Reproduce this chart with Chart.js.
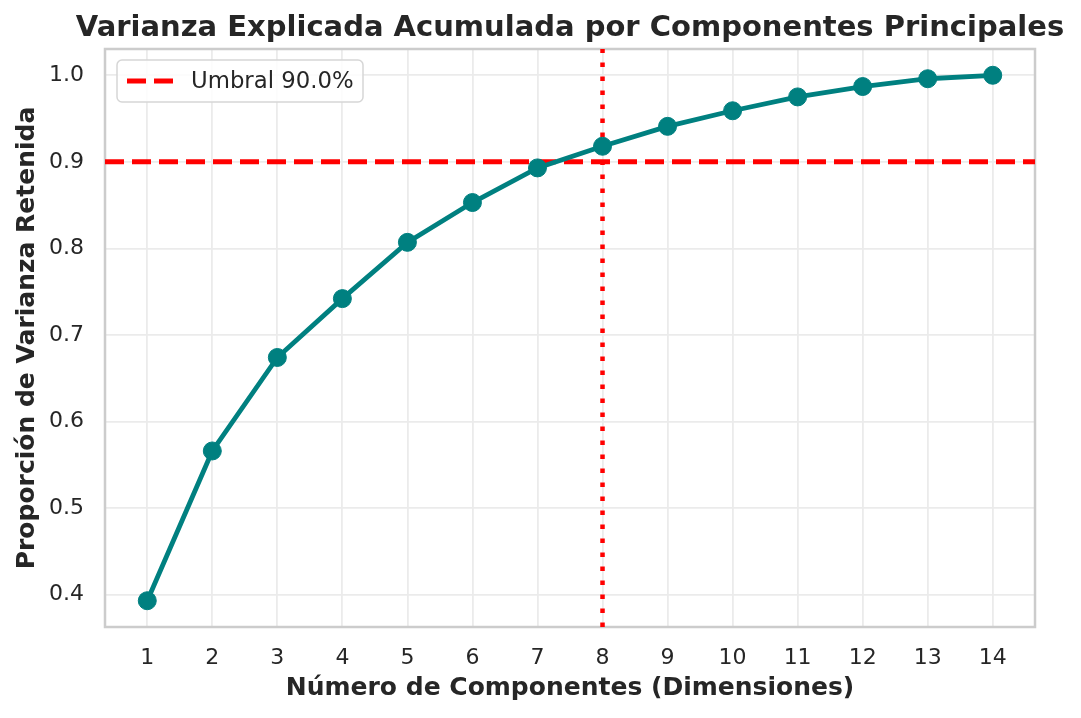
<!DOCTYPE html>
<html>
<head>
<meta charset="utf-8">
<script src="https://cdn.jsdelivr.net/npm/chart.js@4"></script>
<style>
  body { margin: 0; background: #fff; }
  #wrap { width: 1081px; height: 718px; }
</style>
</head>
<body>
<div id="wrap"><canvas id="pcaChart"></canvas></div>
<script>
// Datos
const componentes = [1, 2, 3, 4, 5, 6, 7, 8, 9, 10, 11, 12, 13, 14];
const varianzaAcumulada = [0.393, 0.566, 0.674, 0.742, 0.807, 0.853, 0.893, 0.918, 0.941, 0.959, 0.975, 0.987, 0.996, 1.0];
const umbral = 0.9;
const yTicks = [0.4, 0.5, 0.6, 0.7, 0.8, 0.9, 1.0];
const xTicks = componentes;
const titulo = 'Varianza Explicada Acumulada por Componentes Principales';

// Componentes necesarios para alcanzar el umbral
const nComp = componentes[varianzaAcumulada.findIndex(v => v >= umbral)];

// Márgenes tipo matplotlib (5%)
const xMin = componentes[0] - 0.05 * (componentes[componentes.length - 1] - componentes[0]);
const xMax = componentes[componentes.length - 1] + 0.05 * (componentes[componentes.length - 1] - componentes[0]);
const vMin = Math.min(...varianzaAcumulada), vMax = Math.max(...varianzaAcumulada);
const yMin = vMin - 0.05 * (vMax - vMin);
const yMax = vMax + 0.05 * (vMax - vMin);

const TEXTO = '#262626';
Chart.defaults.font.family = "'DejaVu Sans', sans-serif";
Chart.defaults.color = TEXTO;

// Marco de los ejes, título centrado sobre el área y leyenda dentro
const marco = {
  id: 'marco',
  beforeDatasetsDraw(chart) {
    const { ctx, chartArea: a } = chart;
    ctx.save();
    ctx.strokeStyle = '#cccccc';
    ctx.lineWidth = 2.5;
    ctx.strokeRect(a.left, a.top, a.right - a.left, a.bottom - a.top);
    ctx.restore();
  },
  afterDraw(chart) {
    const { ctx, chartArea: a } = chart;

    // título
    ctx.save();
    ctx.fillStyle = TEXTO;
    ctx.font = "bold 29px 'DejaVu Sans', sans-serif";
    ctx.textAlign = 'center';
    ctx.textBaseline = 'middle';
    ctx.fillText(titulo, (a.left + a.right) / 2, 28);
    ctx.restore();

    // leyenda
    const ds = chart.data.datasets[1];
    const x = a.left + 12, y = a.top + 11, w = 246, h = 42;
    ctx.save();
    ctx.beginPath();
    ctx.roundRect(x, y, w, h, 5);
    ctx.fillStyle = 'rgba(255,255,255,0.85)';
    ctx.fill();
    ctx.strokeStyle = '#d6d6d6';
    ctx.lineWidth = 1.5;
    ctx.stroke();

    ctx.beginPath();
    ctx.setLineDash(ds.borderDash);
    ctx.strokeStyle = ds.borderColor;
    ctx.lineWidth = ds.borderWidth;
    ctx.moveTo(x + 10, y + h / 2);
    ctx.lineTo(x + 57, y + h / 2);
    ctx.stroke();
    ctx.setLineDash([]);

    ctx.fillStyle = TEXTO;
    ctx.font = "22.8px 'DejaVu Sans', sans-serif";
    ctx.textBaseline = 'middle';
    ctx.fillText(ds.label, x + 74, y + h / 2 + 1);
    ctx.restore();
  }
};

new Chart(document.getElementById('pcaChart'), {
  type: 'line',
  data: {
    datasets: [
      {
        label: 'Varianza acumulada',
        data: componentes.map((c, i) => ({ x: c, y: varianzaAcumulada[i] })),
        borderColor: '#008080',
        backgroundColor: '#008080',
        borderWidth: 4.8,
        pointRadius: 9,
        pointBorderWidth: 1,
        pointBackgroundColor: '#008080',
        pointBorderColor: '#008080',
        tension: 0,
      },
      {
        label: 'Umbral ' + (umbral * 100).toFixed(1) + '%',
        data: [{ x: xMin, y: umbral }, { x: xMax, y: umbral }],
        borderColor: '#ff0000',
        borderWidth: 5,
        borderDash: [19, 8],
        pointRadius: 0,
      },
      {
        label: 'Componentes',
        data: [{ x: nComp, y: yMin }, { x: nComp, y: yMax }],
        borderColor: '#ff0000',
        borderWidth: 4.5,
        borderDash: [4.5, 9.5],
        pointRadius: 0,
      }
    ]
  },
  options: {
    responsive: true,
    maintainAspectRatio: false,
    animation: false,
    layout: { padding: { left: 0, right: 46, top: 49, bottom: 0 } },
    plugins: {
      legend: { display: false },
      tooltip: { enabled: false },
      title: { display: false }
    },
    scales: {
      x: {
        type: 'linear',
        min: xMin,
        max: xMax,
        afterBuildTicks: (scale) => { scale.ticks = xTicks.map(v => ({ value: v })); },
        afterFit: (scale) => { scale.height = 91; },
        ticks: { font: { size: 22 }, color: TEXTO, padding: 18, callback: (v) => String(v) },
        grid: { color: '#ebebeb', lineWidth: 1.8, drawTicks: false },
        border: { display: false },
        title: {
          display: true,
          text: 'Número de Componentes (Dimensiones)',
          color: TEXTO,
          font: { size: 25, weight: 'bold' },
          padding: { top: 0, bottom: 15 }
        }
      },
      y: {
        min: yMin,
        max: yMax,
        afterBuildTicks: (scale) => { scale.ticks = yTicks.map(v => ({ value: v })); },
        afterFit: (scale) => { scale.width = 105; },
        ticks: { font: { size: 22 }, color: TEXTO, padding: 21, callback: (v) => v.toFixed(1) },
        grid: { color: '#ebebeb', lineWidth: 1.8, drawTicks: false },
        border: { display: false },
        title: {
          display: true,
          text: 'Proporción de Varianza Retenida',
          color: TEXTO,
          font: { size: 25, weight: 'bold' },
          padding: { top: 12, bottom: 0 }
        }
      }
    }
  },
  plugins: [marco]
});
</script>
</body>
</html>
